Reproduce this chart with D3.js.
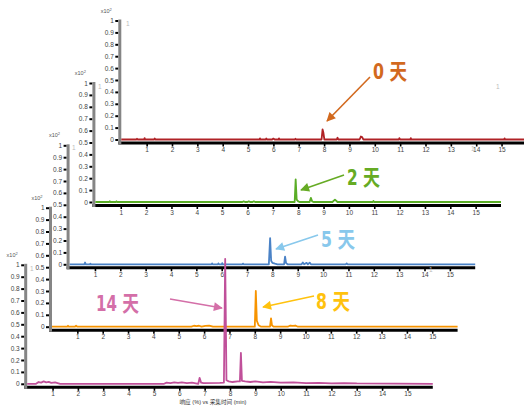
<!DOCTYPE html>
<html>
<head>
<meta charset="utf-8">
<script src="https://cdn.jsdelivr.net/npm/d3@7"></script>
<style>
body { margin: 0; background: #fff; }
</style>
</head>
<body>
<svg id="chart" width="524" height="406"></svg>
<script>
//sample names, one per stacked chromatogram (top-right panel first)
var samples = ["0 天", "2 天", "5 天", "8 天", "14 天"];
var seriesColors = ["#b02226", "#5aad26", "#4a82c6", "#f79400", "#c0509a"];
var labelColors = ["#d2691e", "#66ab24", "#88c8ec", "#ffc20e", "#d46fa8"];
var xTicks = [1, 2, 3, 4, 5, 6, 7, 8, 9, 10, 11, 12, 13, 14, 15];
var yTicks = [0, 0.1, 0.2, 0.3, 0.4, 0.5, 0.6, 0.7, 0.8, 0.9, 1];
var xTitle = "响应 (%) vs 采集时间 (min)";

//each trace is [retention time (min), response x10^2]
var trace0 = [[0, 0], [0.6, 0], [0.62, 0.007], [0.64, 0], [0.9, 0], [0.92, 0.012], [0.94, 0], [1.3, 0], [1.32, 0.008], [1.34, 0],
    [5.45, 0], [5.47, 0.01], [5.49, 0], [5.7, 0], [5.72, 0.008], [5.74, 0], [5.95, 0], [6.0, 0.008], [6.05, 0], [6.2, 0], [6.22, 0.01], [6.24, 0],
    [6.85, 0], [6.87, 0.006], [6.89, 0], [7.9, 0], [7.94, 0.085], [7.97, 0.06], [8.01, 0], [8.5, 0], [8.53, 0.015], [8.56, 0],
    [9.4, 0], [9.45, 0.025], [9.5, 0.02], [9.55, 0], [10.95, 0], [10.97, 0.012], [11.0, 0], [11.4, 0], [11.42, 0.012], [11.44, 0],
    [15.1, 0], [15.12, 0.01], [15.14, 0], [16, 0]];
var trace2 = [[0, 0], [0.55, 0], [0.57, 0.006], [0.6, 0], [0.8, 0], [0.83, 0.006], [0.86, 0], [5.8, 0], [5.85, 0.005], [5.9, 0],
    [6.0, 0], [6.05, 0.006], [6.1, 0], [6.2, 0], [6.25, 0.006], [6.3, 0], [7.86, 0], [7.9, 0.19], [7.94, 0.02], [8.0, 0.005], [8.05, 0],
    [8.45, 0], [8.5, 0.035], [8.55, 0.005], [8.6, 0], [9.35, 0], [9.45, 0.02], [9.55, 0], [10.95, 0], [10.97, 0.008], [11.0, 0], [16, 0]];
var trace5 = [[0, 0], [0.58, 0], [0.61, 0.015], [0.64, 0], [0.8, 0], [0.82, 0.005], [0.84, 0], [5.6, 0], [5.62, 0.008], [5.64, 0],
    [5.85, 0], [5.87, 0.008], [5.89, 0], [6.0, 0], [6.02, 0.01], [6.04, 0], [6.82, 0], [6.84, 0.006], [6.86, 0],
    [7.86, 0], [7.91, 0.22], [7.95, 0.03], [8.0, 0.012], [8.1, 0.005], [8.2, 0], [8.46, 0], [8.5, 0.065], [8.54, 0.01], [8.6, 0],
    [9.15, 0], [9.2, 0.015], [9.25, 0], [9.35, 0.012], [9.4, 0], [9.47, 0.014], [9.52, 0], [10.9, 0], [10.93, 0.008], [10.96, 0], [16, 0]];
var trace8 = [[0, 0], [0.6, 0], [0.63, 0.008], [0.66, 0], [0.9, 0], [0.95, 0.008], [1.0, 0], [5.5, 0], [5.6, 0.008], [5.7, 0.004],
    [5.8, 0.008], [5.9, 0], [6.05, 0.007], [6.2, 0.008], [6.35, 0], [8.0, 0], [8.04, 0.3], [8.08, 0.05], [8.15, 0.012], [8.25, 0],
    [8.6, 0], [8.64, 0.07], [8.68, 0.01], [8.75, 0], [9.3, 0], [9.4, 0.01], [9.5, 0.006], [9.6, 0.01], [9.7, 0], [16, 0]];
var trace14 = [[0, 0], [0.35, 0], [0.45, 0.015], [0.55, 0.01], [0.65, 0.02], [0.75, 0.012], [0.85, 0.016], [0.95, 0.008], [1.1, 0.012], [1.3, 0],
    [5.4, 0], [5.5, 0.01], [5.65, 0.006], [5.8, 0.012], [5.95, 0.008], [6.1, 0.012], [6.3, 0.006], [6.5, 0.01], [6.75, 0],
    [6.8, 0.05], [6.86, 0.01], [6.95, 0.005], [7.6, 0.008], [7.76, 0.01], [7.81, 1.05], [7.86, 0.03], [7.95, 0.02], [8.1, 0.015],
    [8.3, 0.02], [8.39, 0.02], [8.43, 0.26], [8.47, 0.025], [8.6, 0.02], [8.8, 0.015], [9.0, 0.02], [9.3, 0.012], [9.6, 0.016],
    [10.0, 0.01], [10.5, 0.012], [11.0, 0.006], [11.5, 0.008], [12.0, 0.004], [12.5, 0.006], [13.0, 0.003], [16, 0]];
var traces = [trace0, trace2, trace5, trace8, trace14];

//where each panel's origin (0 min, 0 response) sits on the page
var panels = [
    { x0: 121.3, y0: 139.5 },
    { x0: 95.4, y0: 202 },
    { x0: 69.6, y0: 264.3 },
    { x0: 52, y0: 326.7 },
    { x0: 27.2, y0: 383.8 }
];
var pxPerMin = 25.35;
var panelHeight = 119;

//arrow annotations: label position and width, arrow start, arrow tip
var notes = [
    { tx: 373, ty: 79, w: 34, x1: 370, y1: 77, x2: 327, y2: 121 },
    { tx: 347, ty: 185, w: 33, x1: 344, y1: 175, x2: 301, y2: 190 },
    { tx: 321, ty: 247, w: 34, x1: 318, y1: 235, x2: 276, y2: 249 },
    { tx: 316, ty: 309, w: 34, x1: 314, y1: 296, x2: 263, y2: 307 },
    { tx: 96, ty: 311, w: 43, x1: 170, y1: 299, x2: 222, y2: 308 }
];
//stray grey "1" marks in the original export
var strayOnes = [[126, 26], [98, 89], [72, 150], [30, 271], [496, 89], [471, 151], [429, 272]];

var svg = d3.select('#chart');
svg.append('rect').attr('width', 524).attr('height', 406).attr('fill', '#fff');

var fmtY = function(d) {
    if (d === 0) return '0';
    if (d === 1) return '1';
    return d3.format('.1f')(d);
};

panels.forEach(function(p, i) {
    var x = d3.scaleLinear().domain([0, 16]).range([p.x0, p.x0 + 16 * pxPerMin]);
    var y = d3.scaleLinear().domain([0, 1]).range([p.y0, p.y0 - panelHeight]);
    var g = svg.append('g').attr('class', 'panel');
    var spineX = p.x0 - 1.5;

    //x axis: thick black line with short ticks underneath
    var xAxis = g.append('g')
        .attr('transform', 'translate(0,' + (p.y0 + 4) + ')')
        .call(d3.axisBottom(x).tickValues(xTicks).tickSize(3).tickSizeOuter(0).tickPadding(1).tickFormat(d3.format('d')));
    xAxis.select('.domain').remove();
    xAxis.selectAll('.tick line').attr('stroke', '#000').attr('stroke-width', 1.6);
    xAxis.selectAll('.tick text').attr('font-size', '6.5px').attr('fill', '#444')
        .attr('font-family', 'Liberation Sans, Arial, sans-serif');
    g.append('line')
        .attr('x1', spineX - 1.5).attr('x2', x(16))
        .attr('y1', p.y0 + 3.5).attr('y2', p.y0 + 3.5)
        .attr('stroke', '#000').attr('stroke-width', 3);

    //y axis: grey spine, small black ticks on its left
    var yAxis = g.append('g')
        .attr('transform', 'translate(' + (spineX - 1.5) + ',0)')
        .call(d3.axisLeft(y).tickValues(yTicks).tickSize(3).tickPadding(1.5).tickFormat(fmtY));
    yAxis.select('.domain').remove();
    yAxis.selectAll('.tick line').attr('stroke', '#000').attr('stroke-width', 2);
    yAxis.selectAll('.tick text').attr('font-size', '6.5px').attr('fill', '#444')
        .attr('font-family', 'Liberation Sans, Arial, sans-serif');
    g.append('line')
        .attr('x1', spineX).attr('x2', spineX)
        .attr('y1', y(1) - 1).attr('y2', p.y0 + 5)
        .attr('stroke', '#858585').attr('stroke-width', 3);

    //scale multiplier label above the y axis
    var mult = g.append('text')
        .attr('x', spineX - 8).attr('y', y(1) - 8)
        .attr('text-anchor', 'end')
        .attr('font-size', '5.5px').attr('fill', '#555')
        .attr('font-family', 'Liberation Sans, Arial, sans-serif');
    mult.append('tspan').text('x10');
    mult.append('tspan').attr('dy', -2).attr('font-size', '4px').text('2');

    //the chromatogram trace
    var line = d3.line()
        .x(function(d) { return x(d[0]); })
        .y(function(d) { return y(d[1]); });
    g.append('path')
        .datum(traces[i])
        .attr('d', line)
        .attr('fill', 'none')
        .attr('stroke', seriesColors[i])
        .attr('stroke-width', 1.8)
        .attr('stroke-linejoin', 'round');
});

strayOnes.forEach(function(s) {
    svg.append('text').attr('x', s[0]).attr('y', s[1])
        .attr('font-size', '6.5px').attr('fill', '#bbb')
        .attr('font-family', 'Liberation Sans, Arial, sans-serif')
        .text('1');
});

//axis title under the bottom panel
svg.append('text')
    .attr('x', 213).attr('y', 404)
    .attr('text-anchor', 'middle')
    .attr('font-size', '5.5px').attr('fill', '#333')
    .attr('font-family', 'Liberation Sans, Noto Sans CJK SC, sans-serif')
    .attr('textLength', 67).attr('lengthAdjust', 'spacingAndGlyphs')
    .text(xTitle);

//arrow heads, one marker per colour
var defs = svg.append('defs');
notes.forEach(function(n, i) {
    defs.append('marker')
        .attr('id', 'head' + i)
        .attr('viewBox', '0 0 10 10')
        .attr('refX', 9).attr('refY', 5)
        .attr('markerUnits', 'userSpaceOnUse')
        .attr('markerWidth', 10).attr('markerHeight', 9)
        .attr('orient', 'auto')
        .append('path')
        .attr('d', 'M0,0 L10,5 L0,10 Z')
        .attr('fill', labelColors[i]);

    svg.append('line')
        .attr('x1', n.x1).attr('y1', n.y1)
        .attr('x2', n.x2).attr('y2', n.y2)
        .attr('stroke', labelColors[i])
        .attr('stroke-width', 1.6)
        .attr('marker-end', 'url(#head' + i + ')');

    svg.append('text')
        .attr('x', n.tx).attr('y', n.ty)
        .attr('font-size', '22px').attr('font-weight', 'bold')
        .attr('font-family', 'Liberation Sans Narrow, DejaVu Sans Condensed, Noto Sans CJK SC, sans-serif')
        .attr('fill', labelColors[i])
        .attr('textLength', n.w).attr('lengthAdjust', 'spacingAndGlyphs')
        .text(samples[i]);
});
</script>
</body>
</html>
